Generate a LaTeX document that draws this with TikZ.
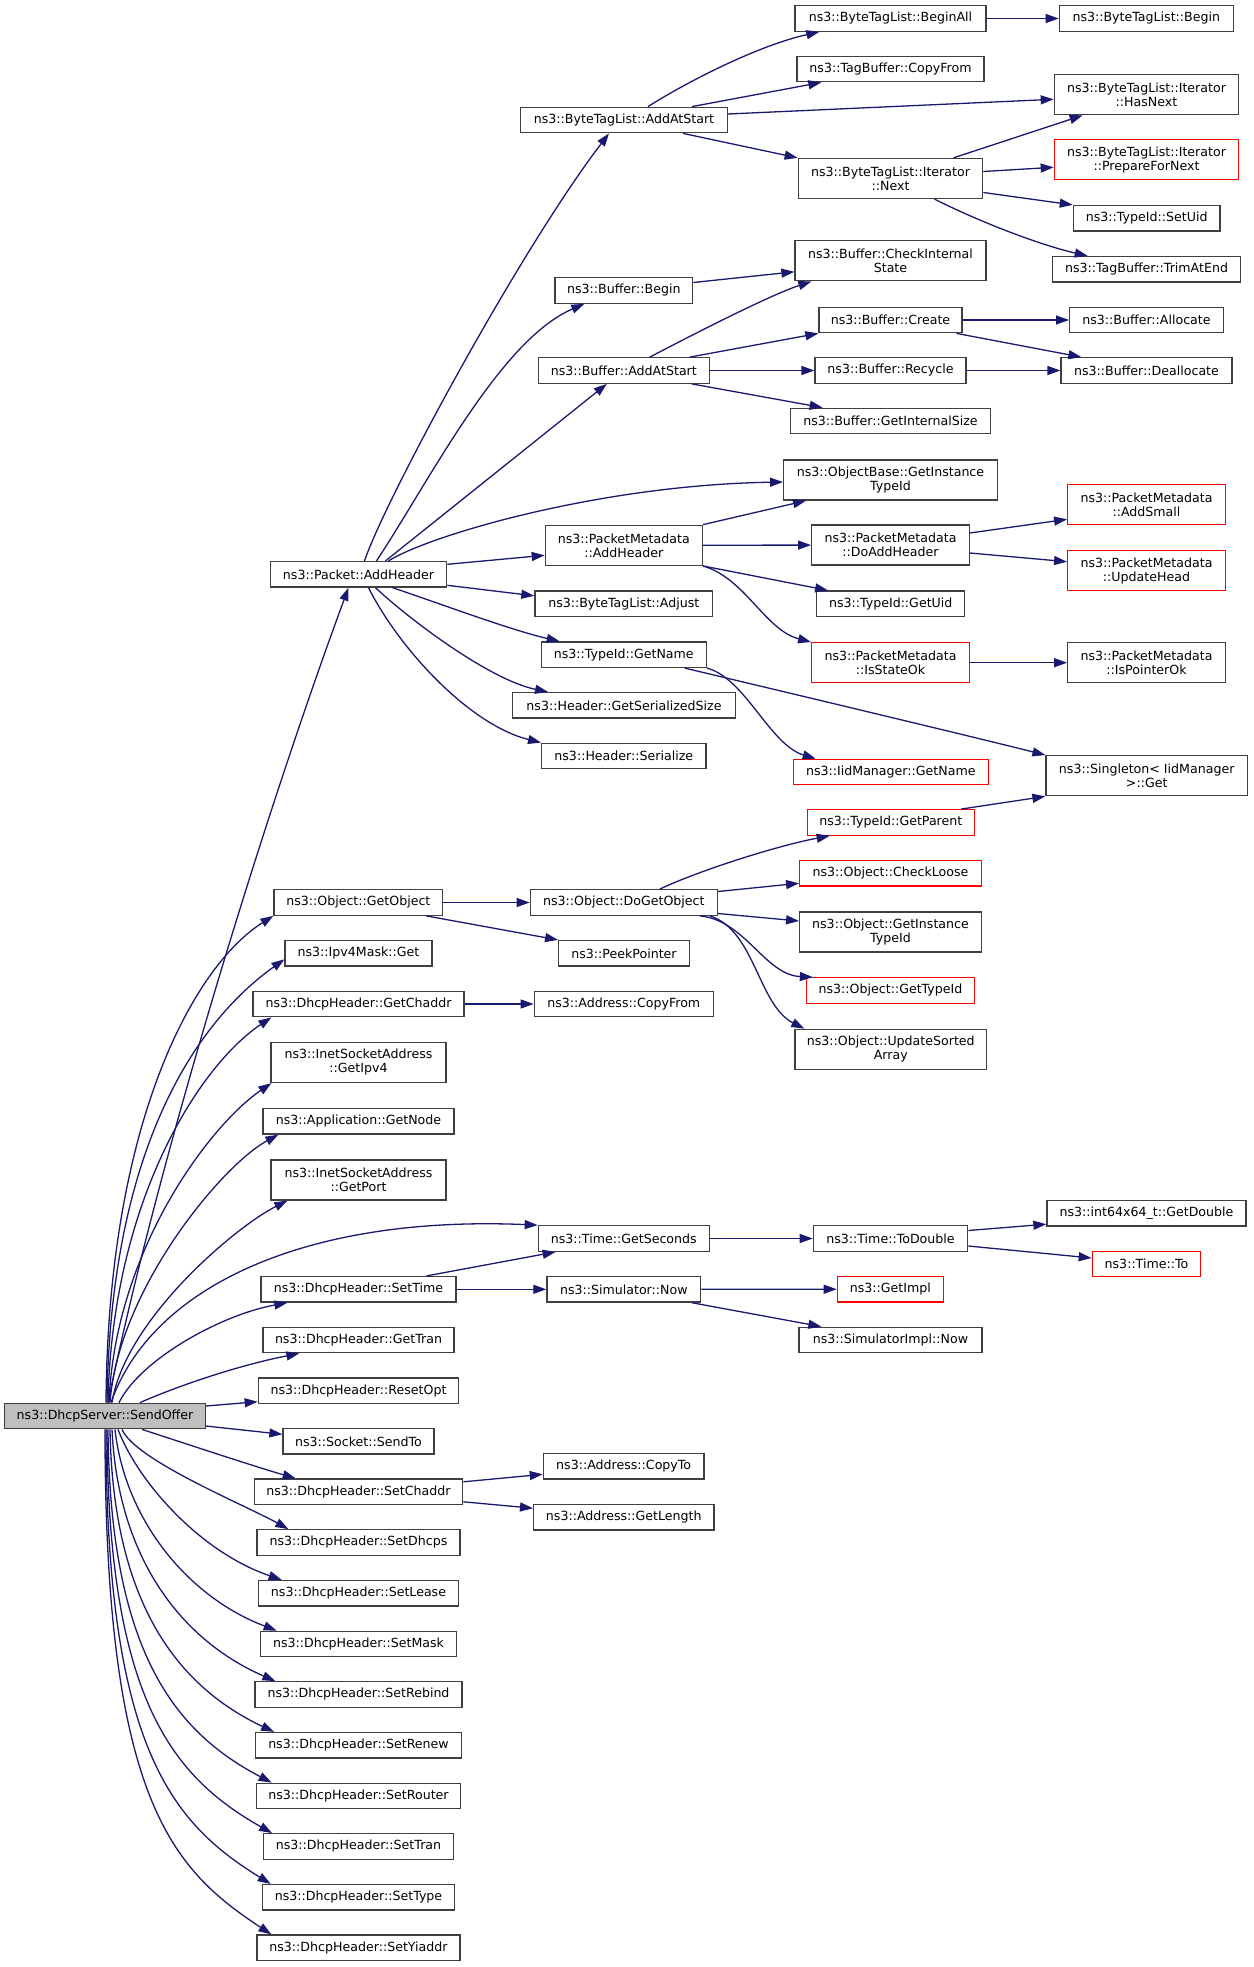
\documentclass[tikz,border=0pt]{standalone}
\usepackage{fontspec}
\setmainfont{DejaVu Sans}
\usetikzlibrary{arrows.meta}
\definecolor{edgeblue}{HTML}{191970}
\definecolor{rootfill}{HTML}{BFBFBF}
\definecolor{frame}{HTML}{404040}
\tikzset{
  box/.style={draw=frame, line width=1.3pt, inner sep=0pt, minimum height=25.5pt,
    align=center, font=\fontsize{12.6}{14}\selectfont, text=black},
  two/.style={minimum height=40pt},
  redbox/.style={box, draw=red},
  rootbox/.style={box, fill=rootfill},
  conn/.style={draw=edgeblue, line width=1.3pt, -{Triangle[length=13pt,width=9pt]}},
}
\begin{document}
\begin{tikzpicture}[x=1pt,y=-1pt]
\useasboundingbox (0,0) rectangle (1253,1967);
% root
\node[rootbox, minimum width=200.6pt] (root) at (105,1416) {ns3::DhcpServer::SendOffer};
% column 1
\node[box, minimum width=176.4pt] (pah) at (358.5,574.3) {ns3::Packet::AddHeader};
\node[box, minimum width=168.7pt] (ogo) at (358.35,902.5) {ns3::Object::GetObject};
\node[box, minimum width=147pt] (ipv4) at (358.5,953.3) {ns3::Ipv4Mask::Get};
\node[box, minimum width=211pt] (gcd) at (358.5,1004) {ns3::DhcpHeader::GetChaddr};
\node[box, two, minimum width=175pt] (gip) at (358.5,1062.5) {ns3::InetSocketAddress\\::GetIpv4};
\node[box, minimum width=191pt] (gnode) at (358.5,1121.3) {ns3::Application::GetNode};
\node[box, two, minimum width=175pt] (gport) at (358.5,1180) {ns3::InetSocketAddress\\::GetPort};
\node[box, minimum width=195pt] (st) at (358.5,1289.3) {ns3::DhcpHeader::SetTime};
\node[box, minimum width=191pt] (gtran) at (358.5,1340) {ns3::DhcpHeader::GetTran};
\node[box, minimum width=200.4pt] (rst) at (358.5,1390.7) {ns3::DhcpHeader::ResetOpt};
\node[box, minimum width=151pt] (sendto) at (358.5,1441.3) {ns3::Socket::SendTo};
\node[box, minimum width=208.4pt] (sch) at (358.5,1491.8) {ns3::DhcpHeader::SetChaddr};
\node[box, minimum width=203pt] (sdh) at (358.5,1542.5) {ns3::DhcpHeader::SetDhcps};
\node[box, minimum width=200.4pt] (slease) at (358.5,1593.2) {ns3::DhcpHeader::SetLease};
\node[box, minimum width=196.4pt] (smask) at (358.5,1644) {ns3::DhcpHeader::SetMask};
\node[box, minimum width=207pt] (sreb) at (358.5,1694.5) {ns3::DhcpHeader::SetRebind};
\node[box, minimum width=205.6pt] (sren) at (358.5,1745.3) {ns3::DhcpHeader::SetRenew};
\node[box, minimum width=204.4pt] (srou) at (358.5,1796) {ns3::DhcpHeader::SetRouter};
\node[box, minimum width=189.6pt] (stran) at (358.5,1846.5) {ns3::DhcpHeader::SetTran};
\node[box, minimum width=192.4pt] (stype) at (358.5,1897.3) {ns3::DhcpHeader::SetType};
\node[box, minimum width=203pt] (sya) at (358.5,1947.8) {ns3::DhcpHeader::SetYiaddr};
% column 2
\node[box, minimum width=206.6pt] (btlaas) at (624,120) {ns3::ByteTagList::AddAtStart};
\node[box, minimum width=137.7pt] (bbeg) at (623.8,290.5) {ns3::Buffer::Begin};
\node[box, minimum width=171pt] (baas) at (623.8,370.5) {ns3::Buffer::AddAtStart};
\node[box, two, minimum width=157pt] (pmah) at (623.8,545.3) {ns3::PacketMetadata\\::AddHeader};
\node[box, minimum width=177.7pt] (btladj) at (623.8,603.8) {ns3::ByteTagList::Adjust};
\node[box, minimum width=165pt] (tgn) at (623.8,654.7) {ns3::TypeId::GetName};
\node[box, minimum width=222.6pt] (hgss) at (624,705.3) {ns3::Header::GetSerializedSize};
\node[box, minimum width=164.3pt] (hser) at (623.8,756) {ns3::Header::Serialize};
\node[box, minimum width=187pt] (dgo) at (623.8,902.5) {ns3::Object::DoGetObject};
\node[box, minimum width=130.6pt] (peek) at (624,953.3) {ns3::PeekPointer};
\node[box, minimum width=179pt] (acf) at (623.8,1004) {ns3::Address::CopyFrom};
\node[box, minimum width=171pt] (gsec) at (623.8,1238.5) {ns3::Time::GetSeconds};
\node[box, minimum width=153.7pt] (snow) at (623.8,1289.3) {ns3::Simulator::Now};
\node[box, minimum width=160.7pt] (acto) at (623.7,1466.3) {ns3::Address::CopyTo};
\node[box, minimum width=180.3pt] (aglen) at (623.8,1517.2) {ns3::Address::GetLength};
% column 3
\node[box, minimum width=191pt] (bta) at (890.5,18.5) {ns3::ByteTagList::BeginAll};
\node[box, minimum width=187pt] (tbcf) at (890.5,69) {ns3::TagBuffer::CopyFrom};
\node[box, two, minimum width=184.4pt] (inext) at (890.5,178.5) {ns3::ByteTagList::Iterator\\::Next};
\node[box, two, minimum width=191pt] (cis) at (890.5,260.8) {ns3::Buffer::CheckInternal\\State};
\node[box, minimum width=143pt] (bcreate) at (890.5,320) {ns3::Buffer::Create};
\node[box, minimum width=151pt] (brec) at (890.5,370.5) {ns3::Buffer::Recycle};
\node[box, minimum width=200.4pt] (gis) at (890.5,421) {ns3::Buffer::GetInternalSize};
\node[box, two, minimum width=213.6pt] (obgit) at (890.5,480) {ns3::ObjectBase::GetInstance\\TypeId};
\node[box, two, minimum width=157.6pt] (doah) at (890.5,545) {ns3::PacketMetadata\\::DoAddHeader};
\node[box, minimum width=148pt] (getuid) at (890.7,603.8) {ns3::TypeId::GetUid};
\node[redbox, two, minimum width=157.6pt] (iso) at (890.5,662.7) {ns3::PacketMetadata\\::IsStateOk};
\node[redbox, minimum width=195pt] (iidgn) at (890.8,772) {ns3::IidManager::GetName};
\node[redbox, minimum width=167pt] (tgp) at (890.8,822.5) {ns3::TypeId::GetParent};
\node[redbox, minimum width=181.6pt] (chkl) at (890.5,873.3) {ns3::Object::CheckLoose};
\node[box, two, minimum width=181.6pt] (ogit) at (890.5,932) {ns3::Object::GetInstance\\TypeId};
\node[redbox, minimum width=168pt] (ogtid) at (890.5,990.5) {ns3::Object::GetTypeId};
\node[box, two, minimum width=191.7pt] (usa) at (890.8,1049.3) {ns3::Object::UpdateSorted\\Array};
\node[box, minimum width=154.4pt] (todbl) at (890.5,1238.5) {ns3::Time::ToDouble};
\node[redbox, minimum width=106pt] (gimpl) at (890.3,1289.2) {ns3::GetImpl};
\node[box, minimum width=183pt] (simpl) at (890.5,1340) {ns3::SimulatorImpl::Now};
% column 4
\node[box, minimum width=174pt] (btb) at (1146.3,18.5) {ns3::ByteTagList::Begin};
\node[box, two, minimum width=184.4pt] (hasnext) at (1146.5,94.7) {ns3::ByteTagList::Iterator\\::HasNext};
\node[redbox, two, minimum width=184.4pt] (pfn) at (1146.5,159.8) {ns3::ByteTagList::Iterator\\::PrepareForNext};
\node[box, minimum width=146.7pt] (setuid) at (1146.7,218.3) {ns3::TypeId::SetUid};
\node[box, minimum width=188.4pt] (trim) at (1146.5,269.3) {ns3::TagBuffer::TrimAtEnd};
\node[box, minimum width=153.6pt] (alloc) at (1146.5,320) {ns3::Buffer::Allocate};
\node[box, minimum width=171pt] (dealloc) at (1146.5,370.5) {ns3::Buffer::Deallocate};
\node[redbox, two, minimum width=157.6pt] (addsmall) at (1146.5,504.7) {ns3::PacketMetadata\\::AddSmall};
\node[redbox, two, minimum width=157.6pt] (uhead) at (1146.5,570.7) {ns3::PacketMetadata\\::UpdateHead};
\node[box, two, minimum width=157.6pt] (ispok) at (1146.5,662.7) {ns3::PacketMetadata\\::IsPointerOk};
\node[box, two, minimum width=201.3pt] (sget) at (1146.7,775.7) {ns3::Singleton< IidManager\\>::Get};
\node[box, minimum width=199pt] (gdbl) at (1146.5,1213.2) {ns3::int64x64\_t::GetDouble};
\node[redbox, minimum width=108.4pt] (tto) at (1146.5,1264) {ns3::Time::To};

% ---- edges from root (upwards)
\draw[conn] ([xshift=3pt]root.north) .. controls (160,1150) and (270,800) .. ([xshift=-10pt]pah.south);
\draw[conn] ([xshift=1pt]root.north) .. controls (108,1120) and (195,965) .. (ogo.south west);
\draw[conn] ([xshift=2pt]root.north) .. controls (110,1150) and (195,1023) .. ([yshift=-6pt]ipv4.west);
\draw[conn] ([xshift=3pt]root.north) .. controls (112,1200) and (200,1065) .. ([xshift=19pt]gcd.south west);
\draw[conn] ([xshift=4pt]root.north) .. controls (115,1250) and (210,1125) .. ([xshift=1pt]gip.south west);
\draw[conn] ([xshift=5pt]root.north) .. controls (118,1290) and (222,1165) .. ([xshift=16pt]gnode.south west);
\draw[conn] ([xshift=7pt]root.north) .. controls (125,1320) and (235,1227) .. ([xshift=17pt]gport.south west);
\draw[conn] ([xshift=6pt]root.north) .. controls (150,1290) and (300,1215) .. (gsec.north west);
\draw[conn] ([xshift=14pt]root.north) .. controls (140,1360) and (220,1315) .. ([xshift=27pt]st.south west);
\draw[conn] ([xshift=35pt]root.north) .. controls (180,1385) and (240,1365) .. ([xshift=37pt]gtran.south west);
\draw[conn] ([yshift=10pt]root.east) -- ([yshift=-11pt]rst.west);
\draw[conn] ([yshift=-10pt]root.east) -- ([yshift=7pt]sendto.west);
% ---- edges from root (downwards)
\draw[conn] ([xshift=37pt]root.south) .. controls (190,1445) and (250,1465) .. ([xshift=42pt]sch.north west);
\draw[conn] ([xshift=17pt]root.south) .. controls (135,1460) and (245,1505) .. ([xshift=32pt]sdh.north west);
\draw[conn] ([xshift=13pt]root.south) .. controls (138,1482) and (200,1552) .. ([xshift=24pt]slease.north west);
\draw[conn] ([xshift=10pt]root.south) .. controls (125,1520) and (188,1597) .. ([xshift=17pt]smask.north west);
\draw[conn] ([xshift=7pt]root.south) .. controls (118,1560) and (183,1641) .. ([xshift=21pt]sreb.north west);
\draw[conn] ([xshift=5pt]root.south) .. controls (113,1605) and (179,1687) .. ([xshift=19pt]sren.north west);
\draw[conn] ([xshift=3pt]root.south) .. controls (110,1652) and (175,1732) .. ([xshift=16pt]srou.north west);
\draw[conn] ([xshift=2pt]root.south) .. controls (108,1700) and (173,1777) .. ([xshift=9pt]stran.north west);
\draw[conn] ([xshift=1pt]root.south) .. controls (106,1748) and (172,1823) .. ([xshift=9pt]stype.north west);
\draw[conn] (root.south) .. controls (105,1800) and (172,1869) .. ([xshift=15pt]sya.north west);

% ---- Packet::AddHeader
\draw[conn] ([xshift=6pt]pah.north) .. controls (385,500) and (520,250) .. ([xshift=-15pt]btlaas.south);
\draw[conn] ([xshift=18pt]pah.north) .. controls (430,480) and (500,340) .. ([xshift=30pt]bbeg.south west);
\draw[conn] ([xshift=27pt]pah.north) -- ([xshift=-17pt]baas.south);
\draw[conn] ([xshift=30pt]pah.north) .. controls (430,535) and (600,485) .. ([yshift=-2pt]obgit.west);
\draw[conn] ([yshift=10pt]pah.east) -- ([yshift=-10pt]pmah.west);
\draw[conn] ([yshift=-11pt]pah.east) -- ([yshift=8pt]btladj.west);
\draw[conn] ([xshift=34pt]pah.south) .. controls (430,600) and (510,630) .. ([xshift=19pt]tgn.north west);
\draw[conn] ([xshift=17pt]pah.south) .. controls (410,620) and (490,680) .. ([xshift=36pt]hgss.north west);
\draw[conn] ([xshift=10pt]pah.south) .. controls (400,650) and (470,725) .. (hser.north west);

% ---- ByteTagList::AddAtStart
\draw[conn] ([xshift=24pt]btlaas.north) .. controls (690,80) and (760,45) .. ([xshift=25pt]bta.south west);
\draw[conn] ([xshift=68pt]btlaas.north) -- ([xshift=25pt]tbcf.south west);
\draw[conn] ([yshift=6pt]btlaas.east) -- ([yshift=-4.6pt]hasnext.west);
\draw[conn] ([xshift=59pt]btlaas.south) -- (inext.north west);
\draw[conn] (bta) -- (btb);
% ---- Iterator::Next
\draw[conn] ([xshift=63pt]inext.north) -- ([xshift=29pt]hasnext.south west);
\draw[conn] ([yshift=7pt]inext.east) -- ([yshift=-7.5pt]pfn.west);
\draw[conn] ([yshift=-14pt]inext.east) -- (setuid.north west);
\draw[conn] ([xshift=44pt]inext.south) .. controls (980,222) and (1040,245) .. ([xshift=36pt]trim.north west);
% ---- Buffer
\draw[conn] ([yshift=8pt]bbeg.east) -- ([yshift=-11pt]cis.west);
\draw[conn] ([xshift=26pt]baas.north) .. controls (690,336) and (770,295) .. ([xshift=17pt]cis.south west);
\draw[conn] ([xshift=66pt]baas.north) -- (bcreate.south west);
\draw[conn] (baas) -- (brec);
\draw[conn] ([xshift=68pt]baas.south) -- ([xshift=33pt]gis.north west);
\draw[conn] (bcreate) -- (alloc);
\draw[conn] ([xshift=66pt]bcreate.south) -- ([xshift=21pt]dealloc.north west);
\draw[conn] (brec) -- (dealloc);
% ---- PacketMetadata
\draw[conn] (pmah.north east) -- ([xshift=23pt]obgit.south west);
\draw[conn] (pmah) -- (doah);
\draw[conn] (pmah.south east) -- ([xshift=12pt]getuid.north west);
\draw[conn] (pmah.south east) .. controls (745,578) and (765,630) .. (iso.north west);
\draw[conn] ([yshift=12pt]doah.east) -- ([yshift=-14.6pt]addsmall.west);
\draw[conn] ([yshift=-8pt]doah.east) -- ([yshift=9pt]uhead.west);
\draw[conn] (iso) -- (ispok);
% ---- TypeId::GetName
\draw[conn] (tgn.south east) .. controls (745,678) and (770,745) .. ([xshift=23pt]iidgn.north west);
\draw[conn] ([xshift=61pt]tgn.south) .. controls (760,686) and (970,736) .. (sget.north west);
% ---- Object
\draw[conn] (ogo) -- (dgo);
\draw[conn] ([xshift=68pt]ogo.south) -- (peek.north west);
\draw[conn] ([xshift=36pt]dgo.north) .. controls (700,870) and (780,845) .. ([xshift=23pt]tgp.south west);
\draw[conn] ([yshift=11pt]dgo.east) -- ([yshift=-10pt]chkl.west);
\draw[conn] ([yshift=-11pt]dgo.east) -- ([yshift=11pt]ogit.west);
\draw[conn] ([xshift=76pt]dgo.south) .. controls (745,920) and (765,975) .. ([xshift=7pt]ogtid.north west);
\draw[conn] ([xshift=86pt]dgo.south) .. controls (755,930) and (758,1005) .. ([xshift=10pt]usa.north west);
\draw[conn] ([xshift=-14pt]tgp.north east) -- (sget.south west);
% ---- misc
\draw[conn] (gcd) -- (acf);
\draw[conn] (gsec) -- (todbl);
\draw[conn] ([yshift=8pt]todbl.east) -- ([yshift=-11pt]gdbl.west);
\draw[conn] ([yshift=-7.5pt]todbl.east) -- ([yshift=6pt]tto.west);
\draw[conn] ([xshift=68pt]st.north) -- ([xshift=18pt]gsec.south west);
\draw[conn] (st) -- (snow);
\draw[conn] (snow) -- (gimpl);
\draw[conn] ([xshift=68pt]snow.south) -- ([xshift=23pt]simpl.north west);
\draw[conn] ([yshift=10pt]sch.east) -- ([yshift=-8pt]acto.west);
\draw[conn] ([yshift=-10pt]sch.east) -- ([yshift=9pt]aglen.west);
\end{tikzpicture}
\end{document}
